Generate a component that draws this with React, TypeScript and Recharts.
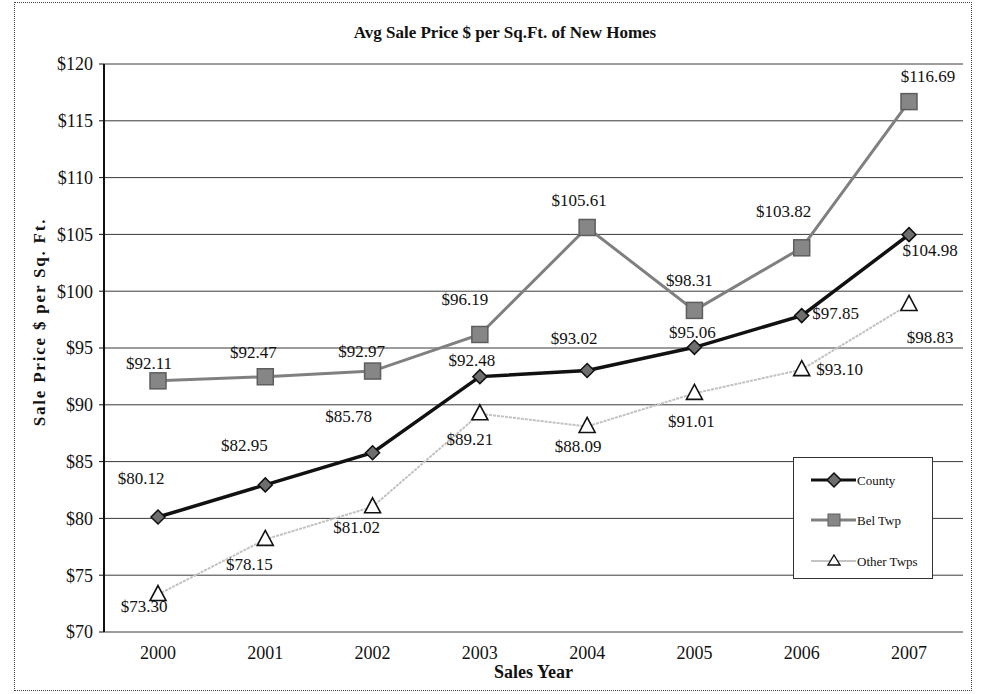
import React from 'react';
import { LineChart, Line, XAxis, YAxis, CartesianGrid, LabelList } from 'recharts';

const years = ['2000', '2001', '2002', '2003', '2004', '2005', '2006', '2007'];
const county = [80.12, 82.95, 85.78, 92.48, 93.02, 95.06, 97.85, 104.98];
const belTwp = [92.11, 92.47, 92.97, 96.19, 105.61, 98.31, 103.82, 116.69];
const otherTwps = [73.3, 78.15, 81.02, 89.21, 88.09, 91.01, 93.1, 98.83];
const yTicks = [70, 75, 80, 85, 90, 95, 100, 105, 110, 115, 120];
const frameTicks = [0, 1, 2, 3, 4, 5, 6, 7, 8];

// where each value label sits relative to its point (Excel moved them by hand)
const countyLabelPos = [[-17, -39], [-21, -39], [-24, -36], [-8, -16], [-13, -32], [-2, -15], [34, -2], [21, 16]];
const belLabelPos = [[-9, -17], [-12, -24], [-11, -20], [-15, -35], [-8, -27], [-5, -30], [-18, -36], [19, -25]];
const otherLabelPos = [[-14, 12], [-16, 25], [-16, 21], [-10, 26], [-9, 20], [-3, 28], [38, 0], [21, 33]];

const data = years.map((year, i) => ({
  year,
  county: county[i],
  bel: belTwp[i],
  other: otherTwps[i],
}));

const FONT = '"Liberation Serif", "Times New Roman", serif';

const Diamond = (props: any) => {
  const { cx, cy } = props;
  if (cx == null || cy == null) return null;
  const r = 7;
  return (
    <path
      d={`M${cx},${cy - r} L${cx + r},${cy} L${cx},${cy + r} L${cx - r},${cy} Z`}
      fill="#6e6e6e"
      stroke="#111"
      strokeWidth={1.5}
    />
  );
};

const Square = (props: any) => {
  const { cx, cy } = props;
  if (cx == null || cy == null) return null;
  const s = 8;
  return <rect x={cx - s} y={cy - s} width={s * 2} height={s * 2} fill="#868686" stroke="#5e5e5e" strokeWidth={1.5} />;
};

const Triangle = (props: any) => {
  const { cx, cy } = props;
  if (cx == null || cy == null) return null;
  return (
    <path
      d={`M${cx},${cy - 9} L${cx + 8},${cy + 6} L${cx - 8},${cy + 6} Z`}
      fill="#fff"
      stroke="#111"
      strokeWidth={1.6}
    />
  );
};

const makeLabel = (offsets: number[][]) => (props: any) => {
  const { x, y, value, index } = props;
  const [dx, dy] = offsets[index] || [0, -15];
  return (
    <text
      x={x + dx}
      y={y + dy}
      textAnchor="middle"
      dominantBaseline="central"
      fontFamily={FONT}
      fontSize={17}
      fill="#111"
    >
      {`$${Number(value).toFixed(2)}`}
    </text>
  );
};

const YTitle = (props: any) => {
  const { viewBox } = props;
  const x = 39;
  const y = viewBox.y + viewBox.height / 2 - 26;
  return (
    <text
      transform={`translate(${x},${y}) rotate(-90)`}
      textAnchor="middle"
      dominantBaseline="central"
      fontFamily={FONT}
      fontWeight="bold"
      fontSize={17}
      letterSpacing={1.8}
      fill="#111"
    >
      Sale Price $  per Sq. Ft.
    </text>
  );
};

const LegendBox = () => {
  const rows = [
    { name: 'County', y: 22, color: '#111', width: 3, marker: 'diamond' },
    { name: 'Bel Twp', y: 62, color: '#808080', width: 3, marker: 'square' },
    { name: 'Other Twps', y: 103, color: '#c4c4c4', width: 2, marker: 'triangle' },
  ];
  return (
    <div
      style={{
        position: 'absolute',
        left: 793,
        top: 457,
        width: 140,
        height: 122,
        border: '1px solid #333',
        background: '#fff',
        boxSizing: 'border-box',
      }}
    >
      <svg width={138} height={120}>
        {rows.map((r) => (
          <g key={r.name}>
            <line x1={17} x2={62} y1={r.y} y2={r.y} stroke={r.color} strokeWidth={r.width} />
            {r.marker === 'diamond' && <Diamond cx={40} cy={r.y} />}
            {r.marker === 'square' && <rect x={34} y={r.y - 6} width={12} height={12} fill="#868686" stroke="#5e5e5e" />}
            {r.marker === 'triangle' && (
              <path d={`M40,${r.y - 6} L46,${r.y + 4} L34,${r.y + 4} Z`} fill="#fff" stroke="#111" strokeWidth={1.4} />
            )}
            <text x={63} y={r.y} dominantBaseline="central" fontFamily={FONT} fontSize={13} fill="#111">
              {r.name}
            </text>
          </g>
        ))}
      </svg>
    </div>
  );
};

export default function App() {
  return (
    <div style={{ position: 'absolute', left: 0, top: 0, width: 982, height: 694, background: '#fff' }}>
      <div
        style={{
          position: 'absolute',
          left: 14,
          top: 2,
          width: 958,
          height: 689,
          border: '1px dotted #444',
          boxSizing: 'border-box',
        }}
      />
      <div
        style={{
          position: 'absolute',
          left: 0,
          width: 1010,
          top: 23,
          textAlign: 'center',
          fontFamily: FONT,
          fontWeight: 'bold',
          fontSize: 17,
          color: '#111',
        }}
      >
        Avg Sale Price $ per Sq.Ft. of New Homes
      </div>
      <div style={{ position: 'absolute', left: 0, top: 0 }}>
        <LineChart width={982} height={694} data={data} margin={{ top: 64, right: 19, left: 8, bottom: 12 }}>
          <CartesianGrid vertical={false} stroke="#3a3a3a" strokeWidth={1} />
          <XAxis
            xAxisId="frame"
            type="number"
            domain={[0, 8]}
            ticks={frameTicks}
            tick={false}
            tickSize={5}
            height={0}
            axisLine={{ stroke: '#111', strokeWidth: 1.5 }}
            tickLine={{ stroke: '#111' }}
          />
          <XAxis
            xAxisId="cat"
            dataKey="year"
            padding={{ left: 54, right: 54 }}
            height={50}
            tickLine={false}
            axisLine={false}
            tickSize={0}
            tickMargin={14}
            tick={{ fontFamily: FONT, fontSize: 18, fill: '#111' }}
            label={{
              value: 'Sales Year',
              position: 'insideBottom',
              offset: 4,
              style: { fontFamily: FONT, fontWeight: 'bold', fontSize: 18, fill: '#111' },
            }}
          />
          <YAxis
            width={96}
            domain={[70, 120]}
            ticks={yTicks}
            interval={0}
            tickFormatter={(v: number) => `$${v}`}
            tickSize={5}
            tickMargin={6}
            tick={{ fontFamily: FONT, fontSize: 18, fill: '#111' }}
            axisLine={{ stroke: '#111', strokeWidth: 2 }}
            tickLine={{ stroke: '#111' }}
            label={<YTitle />}
          />
          <YAxis
            yAxisId="right"
            orientation="right"
            width={0}
            domain={[70, 120]}
            tick={false}
            tickLine={false}
            axisLine={{ stroke: '#333' }}
          />
          <Line
            xAxisId="cat"
            dataKey="other"
            name="Other Twps"
            stroke="#c2c2c2"
            strokeWidth={2}
            strokeDasharray="3 1"
            dot={<Triangle />}
            activeDot={false}
            isAnimationActive={false}
          >
            <LabelList dataKey="other" content={makeLabel(otherLabelPos)} />
          </Line>
          <Line
            xAxisId="cat"
            dataKey="bel"
            name="Bel Twp"
            stroke="#808080"
            strokeWidth={3}
            dot={<Square />}
            activeDot={false}
            isAnimationActive={false}
          >
            <LabelList dataKey="bel" content={makeLabel(belLabelPos)} />
          </Line>
          <Line
            xAxisId="cat"
            dataKey="county"
            name="County"
            stroke="#111"
            strokeWidth={3.5}
            dot={<Diamond />}
            activeDot={false}
            isAnimationActive={false}
          >
            <LabelList dataKey="county" content={makeLabel(countyLabelPos)} />
          </Line>
        </LineChart>
      </div>
      <LegendBox />
    </div>
  );
}
